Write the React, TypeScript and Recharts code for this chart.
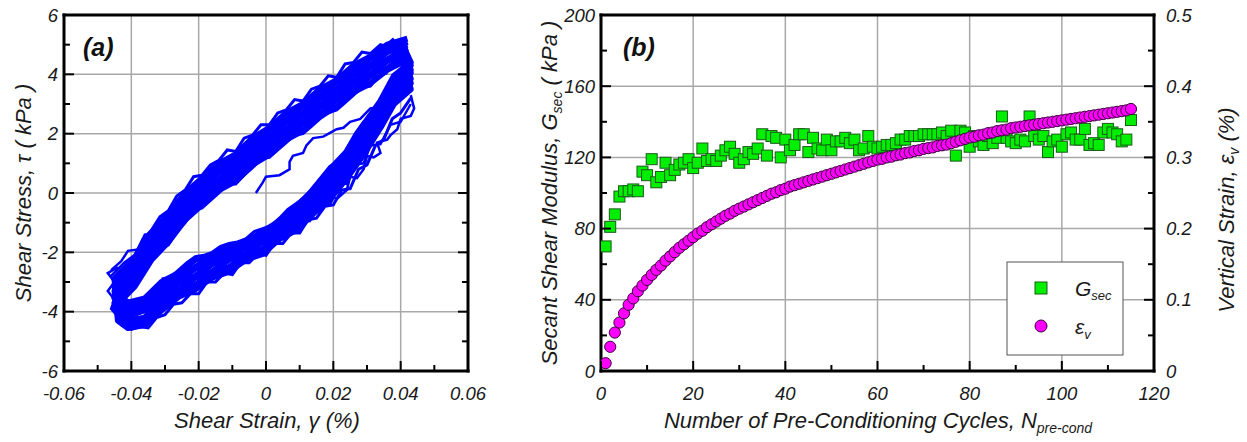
import React from 'react';
import {
  LineChart,
  Line,
  XAxis,
  YAxis,
  CartesianGrid,
  ScatterChart,
  Scatter,
} from 'recharts';

const FONT = '"Liberation Sans", Arial, Helvetica, sans-serif';
const TXT = '#1a1a1a';

// ---------------- Panel (a): shear stress vs shear strain ----------------
const strainTicks = [-0.06, -0.05, -0.04, -0.03, -0.02, -0.01, 0, 0.01, 0.02, 0.03, 0.04, 0.05, 0.06];
const strainMajor = [-0.06, -0.04, -0.02, 0, 0.02, 0.04, 0.06];
const strainGrid = [-0.04, -0.02, 0, 0.02, 0.04];
const stressTicks = [-6, -5, -4, -3, -2, -1, 0, 1, 2, 3, 4, 5, 6];
const stressMajor = [-6, -4, -2, 0, 2, 4, 6];
const stressGrid = [-4, -2, 0, 2, 4];

// strain positions along the unloading (upper) and reloading (lower) branches
const upperStrain = [0.042, 0.036, 0.031, 0.026, 0.021, 0.016, 0.011, 0.006, 0.001, -0.004, -0.009, -0.014, -0.019, -0.024, -0.029, -0.034, -0.039, -0.045];
const lowerStrain = [-0.044, -0.041, -0.036, -0.031, -0.026, -0.021, -0.016, -0.011, -0.006, -0.001, 0.004, 0.009, 0.014, 0.019, 0.024, 0.029, 0.034, 0.038, 0.043, 0.041];

const upperStress1 = [5.2, 5.0, 4.6, 4.3, 3.8, 3.5, 3.0, 2.7, 2.2, 1.85, 1.3, 1.0, 0.5, 0.0, -0.7, -1.35, -2.2, -2.9];
const upperStress2 = [5.1, 4.8, 4.55, 4.05, 3.75, 3.25, 2.95, 2.45, 2.15, 1.6, 1.25, 0.75, 0.45, -0.25, -0.8, -1.6, -2.3, -3.1];
const upperStress3 = [5.0, 4.75, 4.3, 4.0, 3.5, 3.2, 2.7, 2.4, 1.9, 1.55, 1.0, 0.7, 0.2, -0.35, -1.0, -1.7, -2.5, -3.3];
const upperStress4 = [4.9, 4.5, 4.25, 3.75, 3.45, 2.95, 2.65, 2.15, 1.85, 1.3, 0.95, 0.45, 0.15, -0.55, -1.1, -1.9, -2.6, -3.45];
const upperStress5 = [4.8, 4.45, 4.0, 3.7, 3.2, 2.9, 2.4, 2.1, 1.6, 1.25, 0.7, 0.4, -0.1, -0.6, -1.35, -1.95, -2.85, -3.55];
const upperStress6 = [4.7, 4.2, 3.95, 3.45, 3.15, 2.65, 2.35, 1.85, 1.55, 1.0, 0.65, 0.15, -0.15, -0.85, -1.4, -2.2, -2.9, -3.7];
const upperStress7 = [4.5, 4.15, 3.7, 3.4, 2.9, 2.6, 2.1, 1.8, 1.3, 0.95, 0.4, 0.1, -0.4, -0.9, -1.65, -2.25, -3.15, -3.85];

const lowerStress1 = [-4.3, -4.55, -4.45, -3.95, -3.5, -3.25, -2.85, -2.65, -2.25, -2.05, -1.55, -1.25, -0.7, -0.2, 0.5, 1.3, 2.2, 3.0, 3.5, 4.2];
const lowerStress2 = [-4.15, -4.45, -4.25, -3.85, -3.35, -3.1, -2.7, -2.5, -2.1, -1.9, -1.4, -1.1, -0.5, 0.0, 0.75, 1.5, 2.45, 3.2, 3.7, 4.35];
const lowerStress3 = [-4.0, -4.3, -4.2, -3.6, -3.3, -2.85, -2.65, -2.25, -2.05, -1.65, -1.35, -0.85, -0.45, 0.2, 0.85, 1.7, 2.55, 3.4, 3.85, 4.5];
const lowerStress4 = [-3.85, -4.15, -3.95, -3.55, -3.05, -2.8, -2.4, -2.2, -1.8, -1.6, -1.1, -0.8, -0.2, 0.25, 1.05, 1.75, 2.75, 3.45, 4.05, 4.6];
const lowerStress5 = [-3.7, -3.95, -3.85, -3.3, -2.95, -2.55, -2.35, -2.0, -1.85, -1.5, -1.15, -0.65, -0.15, 0.5, 1.1, 2.0, 2.8, 3.7, 4.15, 4.7];
const lowerStress6 = [-3.55, -3.85, -3.65, -3.25, -2.75, -2.5, -2.15, -2.0, -1.6, -1.4, -0.95, -0.6, 0.05, 0.55, 1.35, 2.05, 3.05, 3.75, 4.3, 4.8];
const lowerStress7 = [-3.4, -3.7, -3.55, -3.0, -2.7, -2.25, -2.1, -1.8, -1.65, -1.3, -0.95, -0.45, 0.1, 0.8, 1.4, 2.3, 3.1, 3.95, 4.4, 4.9];

// jagged edge traces and thin individual excursions (strain, stress)
const edgeUpperOuter = [[0.038, 5.2], [0.0355, 4.95], [0.034, 5.0], [0.031, 4.7], [0.0285, 4.75], [0.026, 4.4], [0.0235, 4.35], [0.021, 3.9], [0.0185, 3.95], [0.016, 3.6], [0.0135, 3.5], [0.011, 3.1], [0.0085, 3.15], [0.006, 2.8], [0.0035, 2.7], [0.001, 2.3], [-0.0015, 2.3], [-0.004, 1.95], [-0.0065, 1.85], [-0.009, 1.4], [-0.0115, 1.45], [-0.014, 1.1], [-0.0165, 0.95], [-0.019, 0.6], [-0.0215, 0.55], [-0.024, 0.1], [-0.0265, -0.1], [-0.029, -0.6], [-0.0315, -0.8], [-0.034, -1.25], [-0.0365, -1.55], [-0.039, -2.1], [-0.042, -2.35], [-0.046, -2.8]];
const edgeLowerOuter = [[-0.043, -4.45], [-0.040, -4.6], [-0.0375, -4.5], [-0.035, -4.55], [-0.0325, -4.2], [-0.030, -4.1], [-0.0275, -3.75], [-0.025, -3.7], [-0.0225, -3.4], [-0.020, -3.4], [-0.0175, -3.0], [-0.015, -3.0], [-0.0125, -2.7], [-0.010, -2.75], [-0.0075, -2.35], [-0.005, -2.35], [-0.0025, -2.05], [0.0, -2.1], [0.0025, -1.7], [0.005, -1.7], [0.0075, -1.35], [0.010, -1.35], [0.0125, -0.9], [0.015, -0.85], [0.0175, -0.45], [0.020, -0.4], [0.0225, 0.1], [0.025, 0.15], [0.0275, 0.8], [0.030, 0.95], [0.0325, 1.6], [0.035, 1.8], [0.0375, 2.5], [0.040, 2.7], [0.043, 3.2]];
const edgeUpperInner = [[0.036, 4.05], [0.0335, 3.95], [0.031, 3.6], [0.0285, 3.55], [0.026, 3.3], [0.0235, 3.05], [0.021, 2.8], [0.0185, 2.7], [0.016, 2.5], [0.0135, 2.25], [0.011, 2.0], [0.0085, 1.95], [0.006, 1.7], [0.0035, 1.45], [0.001, 1.2], [-0.0015, 1.15], [-0.004, 0.85], [-0.0065, 0.6], [-0.009, 0.3], [-0.0115, 0.3], [-0.014, 0.0], [-0.0165, -0.25], [-0.019, -0.5], [-0.0215, -0.6], [-0.024, -1.0], [-0.0265, -1.3], [-0.029, -1.75], [-0.0315, -1.9]];
const edgeLowerInner = [[-0.031, -2.9], [-0.0285, -2.85], [-0.026, -2.6], [-0.0235, -2.35], [-0.021, -2.15], [-0.0185, -2.1], [-0.016, -2.0], [-0.0135, -1.8], [-0.011, -1.7], [-0.0085, -1.65], [-0.006, -1.55], [-0.0035, -1.3], [-0.001, -1.2], [0.0015, -1.1], [0.004, -0.85], [0.0065, -0.55], [0.009, -0.35], [0.0115, -0.15], [0.014, 0.2], [0.0165, 0.55], [0.019, 0.9], [0.0215, 1.0], [0.024, 1.5], [0.0265, 2.0], [0.029, 2.4], [0.0315, 2.6], [0.034, 3.2]];
const excursionA = [[0.0, -1.5], [0.005, -1.05], [0.008, -1.1], [0.012, -0.8], [0.013, -0.45], [0.016, -0.55], [0.019, -0.1], [0.021, -0.2], [0.024, 0.1], [0.025, 0.55], [0.027, 0.5], [0.029, 0.8], [0.030, 1.25], [0.032, 1.2], [0.034, 1.35], [0.033, 1.7], [0.036, 1.8], [0.037, 1.95], [0.039, 2.15], [0.040, 2.5], [0.043, 2.6], [0.044, 2.85], [0.043, 3.3]];
const excursionB = [[-0.003, 0.0], [-0.001, 0.35], [0.0, 0.55], [0.004, 0.6], [0.007, 0.8], [0.007, 1.05], [0.008, 1.25], [0.011, 1.35], [0.012, 1.6], [0.014, 1.85], [0.017, 1.9], [0.021, 2.15], [0.023, 2.2], [0.025, 2.4], [0.028, 2.5], [0.031, 2.85], [0.034, 2.9], [0.037, 3.2], [0.040, 3.3], [0.043, 3.6]];
const excursionC = [[-0.046, -2.6], [-0.043, -2.3], [-0.041, -1.95], [-0.038, -1.9], [-0.036, -1.4], [-0.033, -1.35], [-0.031, -1.0], [-0.028, -0.75], [-0.026, -0.35], [-0.023, -0.3], [-0.021, 0.15], [-0.018, 0.25], [-0.015, 0.8], [-0.012, 0.9], [-0.009, 1.3], [-0.005, 1.5], [0.0, 1.9]];
const excursionD = [[0.005, -1.3], [0.01, -0.9], [0.013, -0.95], [0.016, -0.35], [0.019, -0.4], [0.022, 0.35], [0.024, 0.3], [0.026, 0.95], [0.029, 1.0], [0.031, 1.6], [0.034, 1.65], [0.037, 2.3], [0.040, 2.4], [0.043, 3.0]];
const excursionE = [[-0.040, -4.4], [-0.043, -4.3], [-0.046, -3.9], [-0.045, -3.6], [-0.047, -3.3], [-0.045, -3.0], [-0.047, -2.7], [-0.044, -2.5]];

const loopPairs = [
  [upperStress1, lowerStress1],
  [upperStress2, lowerStress2],
  [upperStress3, lowerStress3],
  [upperStress4, lowerStress4],
  [upperStress5, lowerStress5],
  [upperStress6, lowerStress6],
  [upperStress7, lowerStress7],
];
const loops = loopPairs.map(([u, l]) => [
  ...upperStrain.map((x, i) => ({ x, y: u[i] })),
  ...lowerStrain.map((x, i) => ({ x, y: l[i] })),
]);
const edges = [edgeUpperOuter, edgeLowerOuter, edgeUpperInner, edgeLowerInner].map((arr) =>
  arr.map(([x, y]) => ({ x, y }))
);
const excursions = [excursionA, excursionB, excursionC, excursionD, excursionE].map((arr) =>
  arr.map(([x, y]) => ({ x, y }))
);

// ---------------- Panel (b): G_sec and vertical strain vs cycles ----------------
const cycles = [
  1, 2, 3, 4, 5, 6, 7, 8, 9, 10, 11, 12, 13, 14, 15, 16, 17, 18, 19, 20,
  21, 22, 23, 24, 25, 26, 27, 28, 29, 30, 31, 32, 33, 34, 35, 36, 37, 38, 39, 40,
  41, 42, 43, 44, 45, 46, 47, 48, 49, 50, 51, 52, 53, 54, 55, 56, 57, 58, 59, 60,
  61, 62, 63, 64, 65, 66, 67, 68, 69, 70, 71, 72, 73, 74, 75, 76, 77, 78, 79, 80,
  81, 82, 83, 84, 85, 86, 87, 88, 89, 90, 91, 92, 93, 94, 95, 96, 97, 98, 99, 100,
  101, 102, 103, 104, 105, 106, 107, 108, 109, 110, 111, 112, 113, 114, 115,
];
const gsec = [
  70, 81, 88, 98, 101, 101, 102, 101, 112, 110,
  119, 106, 109, 117, 110, 113, 116, 117, 119, 114,
  117, 125, 118, 119, 118, 121, 124, 126, 122, 117,
  119, 123, 122, 125, 133, 121, 132, 131, 120, 130,
  124, 127, 133, 133, 123, 131, 125, 124, 130, 124,
  129, 129, 131, 128, 130, 124, 125, 132, 126, 125,
  126, 127, 127, 128, 130, 130, 132, 132, 132, 133,
  133, 133, 133, 134, 132, 135, 121, 135, 134, 126,
  132, 129, 127, 132, 128, 131, 143, 131, 129, 128,
  130, 129, 143, 132, 130, 132, 123, 129, 130, 126,
  133, 134, 130, 130, 136, 127, 128, 127, 134, 136,
  134, 133, 129, 130, 141,
];
const epsV = [
  0.011, 0.034, 0.054, 0.068, 0.081, 0.093, 0.102, 0.112, 0.120, 0.128,
  0.135, 0.142, 0.148, 0.155, 0.161, 0.167, 0.173, 0.178, 0.183, 0.188,
  0.193, 0.197, 0.202, 0.206, 0.210, 0.214, 0.218, 0.221, 0.225, 0.228,
  0.231, 0.234, 0.237, 0.240, 0.243, 0.246, 0.249, 0.251, 0.254, 0.256,
  0.259, 0.261, 0.263, 0.265, 0.267, 0.269, 0.271, 0.273, 0.275, 0.277,
  0.279, 0.281, 0.283, 0.285, 0.287, 0.289, 0.291, 0.293, 0.295, 0.297,
  0.298, 0.300, 0.301, 0.303, 0.304, 0.306, 0.307, 0.309, 0.310, 0.312,
  0.313, 0.314, 0.316, 0.317, 0.318, 0.320, 0.322, 0.324, 0.326, 0.328,
  0.329, 0.331, 0.332, 0.334, 0.335, 0.337, 0.338, 0.339, 0.341, 0.342,
  0.343, 0.344, 0.345, 0.346, 0.347, 0.348, 0.349, 0.350, 0.351, 0.352,
  0.353, 0.354, 0.355, 0.356, 0.357, 0.358, 0.359, 0.360, 0.361, 0.362,
  0.363, 0.364, 0.365, 0.366, 0.368,
];
const cycleTicks = [0, 10, 20, 30, 40, 50, 60, 70, 80, 90, 100, 110, 120];
const cycleMajor = [0, 20, 40, 60, 80, 100, 120];
const cycleGrid = [20, 40, 60, 80, 100];
const gTicks = [0, 20, 40, 60, 80, 100, 120, 140, 160, 180, 200];
const gMajor = [0, 40, 80, 120, 160, 200];
const gGrid = [40, 80, 120, 160];
const eTicks = [0, 0.05, 0.1, 0.15, 0.2, 0.25, 0.3, 0.35, 0.4, 0.45, 0.5];
const eMajor = [0, 0.1, 0.2, 0.3, 0.4, 0.5];

const gData = cycles.map((n, i) => ({ n, g: gsec[i] }));
const eData = cycles.map((n, i) => ({ n, e: epsV[i] }));

// ---------------- helpers ----------------
type Side = 'bottom' | 'top' | 'left' | 'right';

function makeTick(
  side: Side,
  majors: number[],
  showLabels: boolean,
  fmt: (v: number) => string,
  majorLen: number,
  minorLen: number
) {
  return (props: any) => {
    const { x, y, payload } = props;
    const v = Number(payload.value);
    const isMajor = majors.some((m) => Math.abs(m - v) < 1e-9);
    const len = isMajor ? majorLen : minorLen;
    const common = { stroke: '#000', strokeWidth: 2 };
    const textProps = {
      fontFamily: FONT,
      fontStyle: 'italic' as const,
      fontSize: 18.5,
      fill: TXT,
    };
    let line: React.ReactNode = null;
    let label: React.ReactNode = null;
    if (side === 'bottom') {
      line = <line x1={x} y1={y} x2={x} y2={y - len} {...common} />;
      if (showLabels && isMajor)
        label = (
          <text x={x} y={y + 29} textAnchor="middle" {...textProps}>
            {fmt(v)}
          </text>
        );
    } else if (side === 'top') {
      line = <line x1={x} y1={y} x2={x} y2={y + len} {...common} />;
    } else if (side === 'left') {
      line = <line x1={x} y1={y} x2={x + len} y2={y} {...common} />;
      if (showLabels && isMajor)
        label = (
          <text x={x - 6} y={y + 6.5} textAnchor="end" {...textProps}>
            {fmt(v)}
          </text>
        );
    } else {
      line = <line x1={x} y1={y} x2={x - len} y2={y} {...common} />;
      if (showLabels && isMajor)
        label = (
          <text x={x + 12} y={y + 6.5} textAnchor="start" {...textProps}>
            {fmt(v)}
          </text>
        );
    }
    return (
      <g>
        {line}
        {label}
      </g>
    );
  };
}

const fmtStrain = (v: number) => (Math.abs(v) < 1e-9 ? '0' : v.toFixed(2));
const fmtInt = (v: number) => String(Math.round(v));
const fmtEps = (v: number) => (Math.abs(v) < 1e-9 ? '0' : v.toFixed(1));
const none = () => '';

const frame = { stroke: '#000', strokeWidth: 3, strokeLinecap: 'square' as const };

const GreenSquare = (p: any) => (
  <rect x={p.cx - 5.5} y={p.cy - 5.5} width={11} height={11} fill="#00ee00" stroke="#1a5a1a" strokeWidth={1} />
);
const MagentaCircle = (p: any) => (
  <circle cx={p.cx} cy={p.cy} r={5.6} fill="#ff00ff" stroke="#3a003a" strokeWidth={1} />
);

export default function App() {
  return (
    <div style={{ position: 'absolute', left: 0, top: 0, width: 1247, height: 442, background: '#fff' }}>
      {/* Panel (a) */}
      <div style={{ position: 'absolute', left: 0, top: 0 }}>
        <LineChart width={500} height={442} margin={{ top: 0, right: 0, bottom: 0, left: 0 }}>
          <CartesianGrid
            verticalValues={strainGrid}
            horizontalValues={stressGrid}
            stroke="#a8a8a8"
            strokeWidth={1.5}
          />
          <XAxis
            dataKey="x"
            type="number"
            domain={[-0.06, 0.06]}
            allowDataOverflow
            ticks={strainTicks}
            interval={0}
            height={71}
            tickSize={0}
            tickMargin={0}
            tickLine={false}
            axisLine={frame}
            tick={makeTick('bottom', strainMajor, true, fmtStrain, 10, 6)}
          />
          <XAxis
            xAxisId="top"
            orientation="top"
            type="number"
            domain={[-0.06, 0.06]}
            allowDataOverflow
            ticks={strainTicks}
            interval={0}
            height={15}
            tickSize={0}
            tickMargin={0}
            tickLine={false}
            axisLine={frame}
            tick={makeTick('top', strainMajor, false, none, 10, 6)}
          />
          <YAxis
            type="number"
            domain={[-6, 6]}
            allowDataOverflow
            ticks={stressTicks}
            interval={0}
            width={64}
            tickSize={0}
            tickMargin={0}
            tickLine={false}
            axisLine={frame}
            tick={makeTick('left', stressMajor, true, fmtInt, 10, 6)}
          />
          <YAxis
            yAxisId="right"
            orientation="right"
            type="number"
            domain={[-6, 6]}
            allowDataOverflow
            ticks={stressTicks}
            interval={0}
            width={32}
            tickSize={0}
            tickMargin={0}
            tickLine={false}
            axisLine={frame}
            tick={makeTick('right', stressMajor, false, none, 10, 6)}
          />
          {loops.map((d, i) => (
            <Line
              key={'loop' + i}
              data={d}
              dataKey="y"
              type="linear"
              stroke="#0000ff"
              strokeWidth={6}
              strokeLinejoin="round"
              dot={false}
              isAnimationActive={false}
            />
          ))}
          {edges.map((d, i) => (
            <Line
              key={'edge' + i}
              data={d}
              dataKey="y"
              type="linear"
              stroke="#0000ff"
              strokeWidth={3}
              dot={false}
              isAnimationActive={false}
            />
          ))}
          {excursions.map((d, i) => (
            <Line
              key={'exc' + i}
              data={d}
              dataKey="y"
              type="linear"
              stroke="#0000ff"
              strokeWidth={2.5}
              dot={false}
              isAnimationActive={false}
            />
          ))}
        </LineChart>
      </div>

      {/* Panel (b) */}
      <div style={{ position: 'absolute', left: 480, top: 0 }}>
        <ScatterChart width={767} height={442} margin={{ top: 0, right: 0, bottom: 0, left: 0 }}>
          <CartesianGrid
            yAxisId="g"
            verticalValues={cycleGrid}
            horizontalValues={gGrid}
            stroke="#a8a8a8"
            strokeWidth={1.5}
          />
          <XAxis
            dataKey="n"
            type="number"
            domain={[0, 120]}
            allowDataOverflow
            ticks={cycleTicks}
            interval={0}
            height={71}
            tickSize={0}
            tickMargin={0}
            tickLine={false}
            axisLine={frame}
            tick={makeTick('bottom', cycleMajor, true, fmtInt, 10, 6)}
          />
          <XAxis
            xAxisId="top"
            orientation="top"
            type="number"
            domain={[0, 120]}
            allowDataOverflow
            ticks={cycleTicks}
            interval={0}
            height={15}
            tickSize={0}
            tickMargin={0}
            tickLine={false}
            axisLine={frame}
            tick={makeTick('top', cycleMajor, false, none, 10, 6)}
          />
          <YAxis
            yAxisId="g"
            dataKey="g"
            type="number"
            domain={[0, 200]}
            allowDataOverflow
            ticks={gTicks}
            interval={0}
            width={121}
            tickSize={0}
            tickMargin={0}
            tickLine={false}
            axisLine={frame}
            tick={makeTick('left', gMajor, true, fmtInt, 10, 6)}
          />
          <YAxis
            yAxisId="e"
            dataKey="e"
            orientation="right"
            type="number"
            domain={[0, 0.5]}
            allowDataOverflow
            ticks={eTicks}
            interval={0}
            width={93}
            tickSize={0}
            tickMargin={0}
            tickLine={false}
            axisLine={frame}
            tick={makeTick('right', eMajor, true, fmtEps, 10, 6)}
          />
          <Scatter
            name="Gsec"
            yAxisId="g"
            data={gData}
            shape={GreenSquare}
            isAnimationActive={false}
          />
          <Scatter
            name="εv"
            yAxisId="e"
            data={eData}
            shape={MagentaCircle}
            isAnimationActive={false}
          />
        </ScatterChart>
      </div>

      {/* Titles, panel letters and legend */}
      <svg
        width={1247}
        height={442}
        style={{ position: 'absolute', left: 0, top: 0, pointerEvents: 'none' }}
        fontFamily={FONT}
        fill={TXT}
      >
        <text x={83} y={56} fontSize={25} fontWeight="bold" fontStyle="italic" fill="#111">(a)</text>
        <text x={623} y={56} fontSize={25} fontWeight="bold" fontStyle="italic" fill="#111">(b)</text>

        <text transform="translate(31,193) rotate(-90)" textAnchor="middle" fontSize={22} fontStyle="italic">
          Shear Stress, τ ( kPa )
        </text>
        <text x={267} y={428} textAnchor="middle" fontSize={22} fontStyle="italic">
          Shear Strain, γ (%)
        </text>

        <text x={878} y={428} textAnchor="middle" fontSize={22} fontStyle="italic">
          Number of Pre-Conditioning Cycles, N<tspan dy={5} fontSize={14}>pre-cond</tspan>
        </text>
        <text transform="translate(557,193) rotate(-90)" textAnchor="middle" fontSize={22} fontStyle="italic">
          Secant Shear Modulus, G<tspan dy={5} fontSize={14}>sec</tspan>
          <tspan dy={-5}> ( kPa )</tspan>
        </text>
        <text transform="translate(1234,210) rotate(-90)" textAnchor="middle" fontSize={22} fontStyle="italic">
          Vertical Strain, ε<tspan dy={5} fontSize={14}>v</tspan>
          <tspan dy={-5}> (%)</tspan>
        </text>

        <rect x={1007} y={262} width={116} height={93} fill="#fff" stroke="#555" strokeWidth={1} />
        <rect x={1035} y={282} width={12} height={12} fill="#00ee00" stroke="#1a5a1a" strokeWidth={1} />
        <circle cx={1041} cy={326} r={6} fill="#ff00ff" stroke="#3a003a" strokeWidth={1} />
        <text x={1075} y={296} fontSize={21} fontStyle="italic">
          G<tspan dy={4} fontSize={13}>sec</tspan>
        </text>
        <text x={1075} y={334} fontSize={21} fontStyle="italic">
          ε<tspan dy={5} fontSize={13}>v</tspan>
        </text>
      </svg>
    </div>
  );
}
